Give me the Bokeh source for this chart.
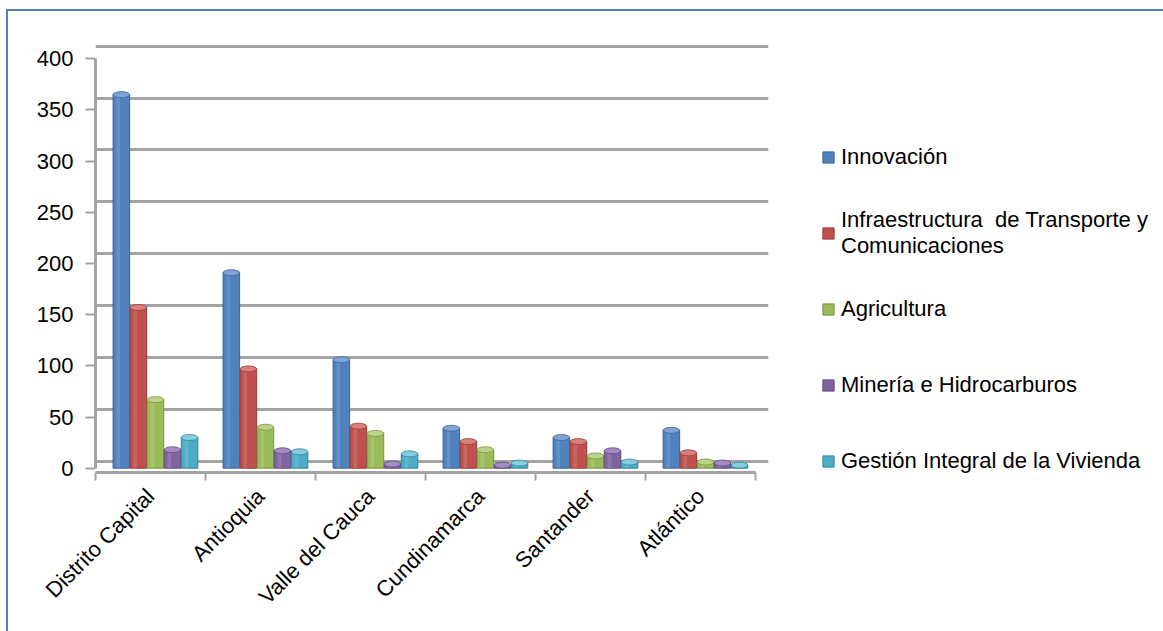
import numpy as np
from bokeh.plotting import figure
from bokeh.models import Range1d, FixedTicker, Legend, LegendItem, Grid
from bokeh.embed import file_html
from bokeh.resources import INLINE

# ---- data ----
categories = ["Distrito Capital", "Antioquia", "Valle del Cauca", "Cundinamarca", "Santander", "Atlántico"]
innovacion = [365, 191, 106, 39, 30, 37]
infraestructura = [157, 97, 41, 26, 26, 15]
agricultura = [67, 40, 34, 18, 12, 6]
mineria = [18, 17, 4, 3, 17, 5]
vivienda = [30, 16, 14, 5, 6, 3]
series_names = ["Innovación",
                "Infraestructura  de Transporte y\nComunicaciones",
                "Agricultura",
                "Minería e Hidrocarburos",
                "Gestión Integral de la Vivienda"]
y_ticks = [0, 50, 100, 150, 200, 250, 300, 350, 400]

series_values = [innovacion, infraestructura, agricultura, mineria, vivienda]
colors = ["#4F81BD", "#C0504D", "#9BBB59", "#8064A2", "#4BACC6"]
edge_colors = ["#3A6596", "#953B39", "#77923F", "#5E4A7A", "#35849A"]
cap_colors = ["#7EA3D4", "#D9807D", "#BCD48A", "#A48BC4", "#86CDE0"]

FONT = "Liberation Sans, Arial, sans-serif"
GRID = "#A3A3A3"
n = len(categories)

p = figure(
    frame_width=673, frame_height=428,
    min_border_left=87, min_border_top=33, min_border_right=397, min_border_bottom=161,
    x_range=Range1d(0, n + 0.118), y_range=Range1d(-4.2, 413.97),
    output_backend="svg", toolbar_location=None,
    background_fill_color="white", border_fill_color="white",
)
p.styles = {"margin-top": "9px", "margin-left": "6px",
            "border-top": "2px solid #4F81BD", "border-left": "2px solid #4F81BD"}
p.outline_line_color = None

# back wall of the 3-D chart: gridlines sit slightly higher than the front axis
p.extra_y_ranges = {"back": Range1d(-10.6, 401.6)}
p.ygrid.grid_line_color = None
p.xgrid.grid_line_color = None
back_grid = Grid(dimension=1, ticker=FixedTicker(ticks=y_ticks), y_range_name="back",
                 grid_line_color=GRID, grid_line_width=3)
p.add_layout(back_grid)

centers = np.arange(n) + 0.5
bar_w = 0.155
offsets = [(k - 2) * bar_w + 0.045 for k in range(5)]

renderers = []
for k, vals in enumerate(series_values):
    xs = centers + offsets[k]
    r = p.vbar(x=xs, top=vals, bottom=0, width=bar_w * 0.97,
               fill_color=colors[k], line_color=edge_colors[k], line_width=1)
    # subtle cylinder highlight
    p.vbar(x=xs - bar_w * 0.18, top=vals, bottom=0, width=bar_w * 0.22,
           fill_color="white", fill_alpha=0.12, line_color=None)
    p.ellipse(x=xs, y=vals, width=bar_w * 0.97, height=6, height_units="screen",
              fill_color=cap_colors[k], line_color=edge_colors[k], line_width=0.8)
    renderers.append(r)

# y axis
p.yaxis.ticker = FixedTicker(ticks=y_ticks)
p.yaxis.bounds = (0, 400)
p.yaxis.axis_line_color = GRID
p.yaxis.axis_line_width = 3
p.yaxis.major_tick_line_color = GRID
p.yaxis.major_tick_line_width = 2
p.yaxis.major_tick_out = 10
p.yaxis.major_tick_in = 0
p.yaxis.minor_tick_line_color = None
p.yaxis.major_label_standoff = 12
p.yaxis.major_label_text_font = FONT
p.yaxis.major_label_text_font_size = "22px"
p.yaxis.major_label_text_color = "black"

# x axis
p.xaxis.ticker = FixedTicker(ticks=list(centers), minor_ticks=list(np.arange(n + 1)))
p.xaxis.bounds = (0, n)
p.xaxis.major_label_overrides = {float(c): name for c, name in zip(centers, categories)}
p.xaxis.major_label_orientation = np.pi / 4
p.xaxis.major_tick_out = 0
p.xaxis.major_tick_in = 0
p.xaxis.minor_tick_out = 8
p.xaxis.minor_tick_in = 0
p.xaxis.minor_tick_line_color = GRID
p.xaxis.minor_tick_line_width = 2
p.xaxis.axis_line_color = GRID
p.xaxis.axis_line_width = 3
p.xaxis.major_label_standoff = 12
p.xaxis.major_label_text_font = FONT
p.xaxis.major_label_text_font_size = "22px"
p.xaxis.major_label_text_color = "black"

# legend in the right panel
lg = Legend(items=[LegendItem(label=series_names[k], renderers=[renderers[k]]) for k in range(5)],
            location=(53, -15))
lg.glyph_width = 14
lg.glyph_height = 14
lg.label_standoff = 6
lg.label_height = 52
lg.spacing = 24
lg.padding = 0
lg.margin = 0
lg.border_line_color = None
lg.background_fill_alpha = 0
lg.label_text_font = FONT
lg.label_text_font_size = "22px"
lg.label_text_line_height = 1.25
lg.label_text_color = "black"
p.add_layout(lg, "right")

open("out.html", "w").write(file_html(p, INLINE))
